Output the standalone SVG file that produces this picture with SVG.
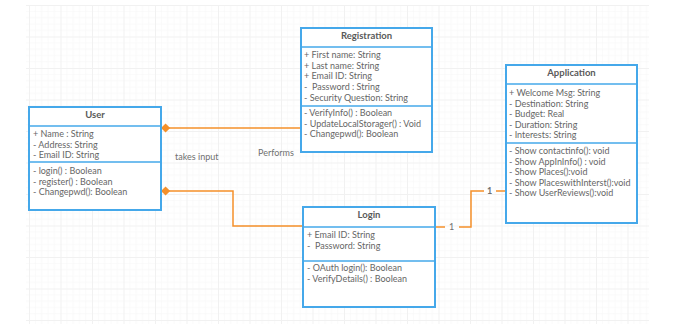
<svg xmlns="http://www.w3.org/2000/svg" width="683" height="332" viewBox="0 0 683 332">
  <defs>
    <pattern id="grid" x="29" y="5" width="31.5" height="31.5" patternUnits="userSpaceOnUse">
      <path d="M6.3 0V31.5M12.6 0V31.5M18.9 0V31.5M25.2 0V31.5M0 6.3H31.5M0 12.6H31.5M0 18.9H31.5M0 25.2H31.5" stroke="#f8f8f8" stroke-width="0.8" fill="none"/>
      <path d="M0.5 0V31.5M0 0.5H31.5" stroke="#f1f1f1" stroke-width="1" fill="none"/>
    </pattern>
    <marker id="diamond" viewBox="0 0 12 12" refX="1" refY="6" markerWidth="11" markerHeight="11" markerUnits="userSpaceOnUse" orient="auto">
      <path d="M1 6L6 1L11 6L6 11Z" fill="#f5902a"/>
    </marker>
  </defs>
  <style>
    .box { fill: #ffffff; stroke: #45a8ea; stroke-width: 2; }
    .div { stroke: #45a8ea; stroke-width: 1.5; }
    .title { font-family: Lato, "Liberation Sans", sans-serif; font-size: 9.5px; font-weight: bold; fill: #5a5a5a; text-anchor: middle; }
    .t { font-family: Lato, "Liberation Sans", sans-serif; font-size: 9px; fill: #666666; }
    .lbl { font-family: Lato, "Liberation Sans", sans-serif; font-size: 9px; fill: #707070; }
    .conn { fill: none; stroke: #f5902a; stroke-width: 1.5; }
  </style>
  <rect width="683" height="332" fill="#ffffff"/>
  <rect x="26" y="5" width="623" height="319" fill="url(#grid)"/>

  <g id="connectors">
    <path class="conn" d="M161 128H301" marker-start="url(#diamond)"/>
    <path class="conn" d="M161 191H233V226H303" marker-start="url(#diamond)"/>
    <path class="conn" d="M435 227H445M459 227H471V191H484M496 191H506"/>
    <text class="lbl" x="175" y="160">takes input</text>
    <text class="lbl" x="258" y="156">Performs</text>
    <text class="lbl" x="449" y="230">1</text>
    <text class="lbl" x="487" y="194" font-weight="bold" fill="#444">1</text>
  </g>

  <g id="user">
    <rect class="box" x="29" y="107" width="132" height="103"/>
    <line class="div" x1="29" y1="126" x2="161" y2="126"/>
    <line class="div" x1="29" y1="162" x2="161" y2="162"/>
    <text class="title" x="95" y="118">User</text>
    <text class="t" x="33" y="137">+ Name : String</text>
    <text class="t" x="33" y="148">- Address: String</text>
    <text class="t" x="33" y="158">- Email ID: String</text>
    <text class="t" x="33" y="174">- login() : Boolean</text>
    <text class="t" x="33" y="185">- register() : Boolean</text>
    <text class="t" x="33" y="195">- Changepwd(): Boolean</text>
  </g>

  <g id="registration">
    <rect class="box" x="301" y="28" width="131" height="124"/>
    <line class="div" x1="301" y1="47" x2="432" y2="47"/>
    <line class="div" x1="301" y1="106" x2="432" y2="106"/>
    <text class="title" x="366.5" y="39">Registration</text>
    <text class="t" x="304" y="58">+ First name: String</text>
    <text class="t" x="304" y="69">+ Last name: String</text>
    <text class="t" x="304" y="79">+ Email ID: String</text>
    <text class="t" x="304" y="90" xml:space="preserve">-  Password : String</text>
    <text class="t" x="304" y="101">- Security Question: String</text>
    <text class="t" x="304" y="116">- VerifyInfo() : Boolean</text>
    <text class="t" x="304" y="127">- UpdateLocalStorager() : Void</text>
    <text class="t" x="304" y="137">- Changepwd(): Boolean</text>
  </g>

  <g id="application">
    <rect class="box" x="506" y="65" width="131" height="158"/>
    <line class="div" x1="506" y1="84" x2="637" y2="84"/>
    <line class="div" x1="506" y1="143" x2="637" y2="143"/>
    <text class="title" x="571.5" y="76">Application</text>
    <text class="t" x="509" y="96">+ Welcome Msg: String</text>
    <text class="t" x="509" y="107">- Destination: String</text>
    <text class="t" x="509" y="117">- Budget: Real</text>
    <text class="t" x="509" y="128">- Duration: String</text>
    <text class="t" x="509" y="138">- Interests: String</text>
    <text class="t" x="509" y="154">- Show contactinfo(): void</text>
    <text class="t" x="509" y="165">- Show AppInInfo() : void</text>
    <text class="t" x="509" y="175">- Show Places():void</text>
    <text class="t" x="509" y="186">- Show PlaceswithInterst():void</text>
    <text class="t" x="509" y="196">- Show UserReviews():void</text>
  </g>

  <g id="login">
    <rect class="box" x="303" y="207" width="132" height="100"/>
    <line class="div" x1="303" y1="227" x2="435" y2="227"/>
    <line class="div" x1="303" y1="261" x2="435" y2="261"/>
    <text class="title" x="369" y="218">Login</text>
    <text class="t" x="307" y="238">+ Email ID: String</text>
    <text class="t" x="307" y="249" xml:space="preserve">-  Password: String</text>
    <text class="t" x="307" y="271">- OAuth login(): Boolean</text>
    <text class="t" x="307" y="282">- VerifyDetails() : Boolean</text>
  </g>
</svg>
